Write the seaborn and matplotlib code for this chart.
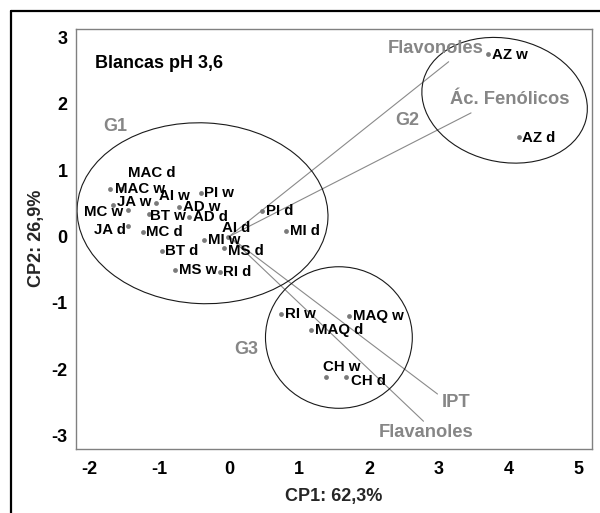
import numpy as np
import pandas as pd
import matplotlib
matplotlib.use("Agg")
import matplotlib.pyplot as plt
import seaborn as sns
from matplotlib.patches import Ellipse
from matplotlib.lines import Line2D

# Sample scores on the first two principal components
samples = ["MAC d", "MAC w", "JA w", "MC w", "JA d", "MC d", "BT w", "AI w",
           "BT d", "MS w", "AD w", "AD d", "PI w", "MI w", "MS d", "RI d",
           "AI d", "PI d", "MI d", "RI w", "MAQ w", "MAQ d", "CH w", "CH d",
           "AZ w", "AZ d"]
cp1 = [-1.55, -1.70, -1.66, -1.44, -1.44, -1.23, -1.14, -1.04,
       -0.96, -0.77, -0.72, -0.57, -0.40, -0.36, -0.07, -0.13,
       -0.02, 0.47, 0.82, 0.74, 1.71, 1.17, 1.39, 1.67,
       3.70, 4.14]
cp2 = [0.71, 0.71, 0.47, 0.40, 0.16, 0.07, 0.34, 0.51,
       -0.22, -0.50, 0.44, 0.29, 0.66, -0.05, -0.18, -0.54,
       0.00, 0.39, 0.08, -1.17, -1.20, -1.40, -2.12, -2.12,
       2.75, 1.49]

# Variable loadings (scaled)
variables = ["Flavonoles", "Ác. Fenólicos", "IPT", "Flavanoles"]
load_cp1 = [3.14, 3.46, 2.98, 2.78]
load_cp2 = [2.63, 1.86, -2.37, -2.78]

# Sample groups
groups = ["G1", "G2", "G3"]
group_cx = [-0.38, 3.94, 1.57]
group_cy = [0.35, 2.05, -1.52]
group_w = [3.59, 2.40, 2.10]
group_h = [2.72, 1.85, 2.13]
group_angle = [-3, -15, 0]
group_label_x = [-1.80, 2.37, 0.07]
group_label_y = [1.66, 1.75, -1.70]

x_ticks = [-2, -1, 0, 1, 2, 3, 4, 5]
y_ticks = [-3, -2, -1, 0, 1, 2, 3]

title = "Blancas pH 3,6"
x_label = "CP1: 62,3%"
y_label = "CP2: 26,9%"

# label offsets in pixels (dx, dy, horizontal alignment)
label_offsets = {
    "MAC d": (7, 16, "left"), "MAC w": (5, 0, "left"), "JA w": (4, 3, "left"),
    "MC w": (-5, -2, "right"), "JA d": (-3, -4, "right"), "MC d": (3, 0, "left"),
    "BT w": (1, -2, "left"), "AI w": (3, 7, "left"), "BT d": (3, 0, "left"),
    "MS w": (4, 0, "left"), "AD w": (4, 0, "left"), "AD d": (4, 0, "left"),
    "PI w": (3, 0, "left"), "MI w": (4, 0, "left"), "MS d": (4, -3, "left"),
    "RI d": (3, 0, "left"), "AI d": (-6, 9, "left"), "PI d": (4, 0, "left"),
    "MI d": (4, 0, "left"), "RI w": (4, 0, "left"), "MAQ w": (4, 0, "left"),
    "MAQ d": (4, 0, "left"), "CH w": (-3, 10, "left"), "CH d": (5, -4, "left"),
    "AZ w": (4, -1, "left"), "AZ d": (3, -1, "left"),
}
var_offsets = {
    "Flavonoles": (-61, 13), "Ác. Fenólicos": (-21, 13),
    "IPT": (4, -8), "Flavanoles": (-45, -11),
}

sns.set_style("white")
plt.rcParams["font.family"] = ["Liberation Sans", "DejaVu Sans"]
plt.rcParams["font.weight"] = "bold"

GRAY = "#868686"
scores = pd.DataFrame({"CP1": cp1, "CP2": cp2, "muestra": samples})

fig = plt.figure(figsize=(6.0, 5.13), dpi=100)
ax = fig.add_axes([76 / 600, 1 - 448.5 / 513, (592 - 76) / 600, (448.5 - 28.5) / 513])

# loading vectors
for v, lx, ly in zip(variables, load_cp1, load_cp2):
    ax.plot([0, lx], [0, ly], color="#8a8a8a", lw=0.8, zorder=1)
    dx, dy = var_offsets[v]
    ax.annotate(v, (lx, ly), xytext=(dx, dy), textcoords="offset pixels",
                ha="left", va="center", color=GRAY, fontsize=13.2,
                fontweight="bold", zorder=4)

# group ellipses
for g, cx, cy, w, h, a, tx, ty in zip(groups, group_cx, group_cy, group_w,
                                      group_h, group_angle, group_label_x,
                                      group_label_y):
    ax.add_patch(Ellipse((cx, cy), w, h, angle=a, fill=False,
                         edgecolor="#1a1a1a", lw=0.8, zorder=2))
    ax.text(tx, ty, g, ha="left", va="center", color=GRAY, fontsize=13,
            fontweight="bold", zorder=4)

sns.scatterplot(data=scores, x="CP1", y="CP2", ax=ax, color="#7a7a7a",
                s=12, linewidth=0, zorder=3, legend=False)

for name, x, y in zip(samples, cp1, cp2):
    dx, dy, ha = label_offsets[name]
    ax.annotate(name, (x, y), xytext=(dx, dy), textcoords="offset pixels",
                ha=ha, va="center", color="black", fontsize=10.8,
                fontweight="bold", zorder=5)

ax.text(0.037, 0.917, title, transform=ax.transAxes, ha="left", va="center",
        fontsize=13, fontweight="bold", color="black")

ax.set_xlim(-2.19, 5.19)
ax.set_ylim(-3.19, 3.13)
ax.set_xticks(x_ticks)
ax.set_yticks(y_ticks)
ax.set_xticklabels([str(t) for t in x_ticks], fontsize=13, fontweight="bold")
ax.set_yticklabels([str(t) for t in y_ticks], fontsize=13, fontweight="bold")
ax.tick_params(axis="x", length=0, pad=9, colors="black")
ax.tick_params(axis="y", length=0, pad=6, colors="black")
ax.set_xlabel(x_label, fontsize=13, fontweight="bold", labelpad=7)
ax.set_ylabel(y_label, fontsize=13, fontweight="bold", labelpad=5)
for sp in ax.spines.values():
    sp.set_color("#808080")
    sp.set_linewidth(1.0)

# outer frame around the figure
fig.add_artist(Line2D([10.5 / 600, 10.5 / 600], [0, 1 - 10.5 / 513],
                      transform=fig.transFigure, color="black", lw=1.6))
fig.add_artist(Line2D([10.5 / 600, 1], [1 - 10.5 / 513, 1 - 10.5 / 513],
                      transform=fig.transFigure, color="black", lw=1.6))

fig.savefig("out.png", dpi=100)
